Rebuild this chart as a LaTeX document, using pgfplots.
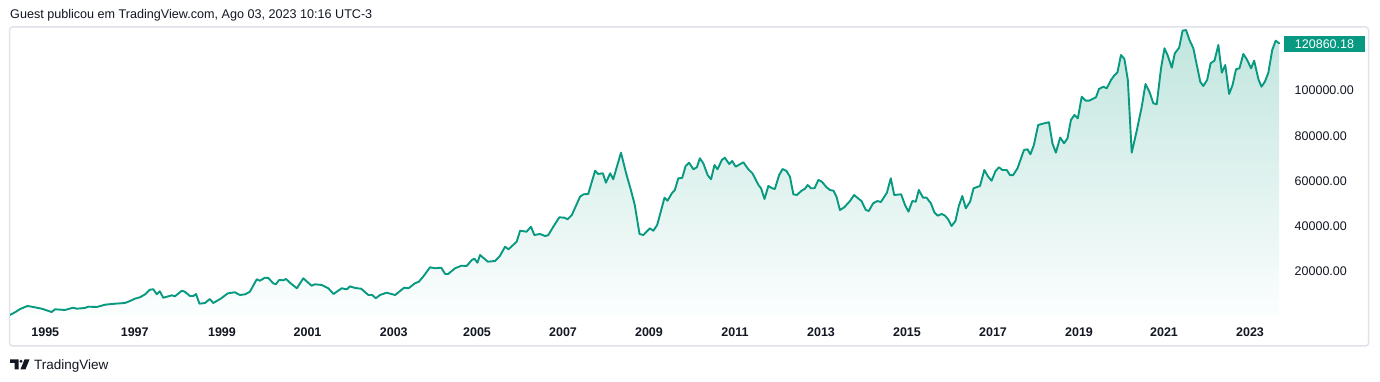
\documentclass[border=0pt]{standalone}
\usepackage{pgfplots}
\pgfplotsset{compat=1.18}
\usepackage{pgfplotstable}
\usepackage{fontspec}
\setmainfont{Liberation Sans}
\definecolor{tvgreen}{RGB}{8,153,129}
\definecolor{tvtext}{RGB}{19,23,34}
\definecolor{tvframe}{RGB}{224,227,235}
\definecolor{filltop}{RGB}{193,229,222}
\definecolor{fillbot}{RGB}{252,254,254}

\pgfplotstableread{
x y
1994.23 880
1994.35 2075
1994.47 3530
1994.64 4860
1994.74 4550
1994.97 3660
1995.20 2210
1995.28 3400
1995.51 3090
1995.70 4110
1995.78 3660
1995.97 3970
1996.05 4550
1996.25 4420
1996.44 5430
1996.67 5870
1996.90 6180
1997.02 7060
1997.13 8080
1997.25 8700
1997.37 10020
1997.48 12050
1997.56 12230
1997.64 10020
1997.71 11350
1997.79 8520
1997.91 9140
1997.99 9580
1998.06 9140
1998.22 11610
1998.29 11170
1998.41 9270
1998.49 9270
1998.55 10160
1998.63 5870
1998.76 6180
1998.87 7950
1998.95 6180
1999.13 8170
1999.29 10460
1999.45 10910
1999.57 9710
1999.69 10020
1999.80 11170
1999.96 16650
2000.03 16030
2000.15 17350
2000.23 17220
2000.34 14880
2000.40 14440
2000.48 16340
2000.58 16200
2000.64 16780
2000.73 15140
2000.89 12670
2001.04 17090
2001.23 13820
2001.31 14440
2001.47 14130
2001.62 12670
2001.74 10160
2001.93 12670
2002.05 12230
2002.12 13550
2002.24 12800
2002.38 12490
2002.55 9710
2002.64 9710
2002.72 8260
2002.82 9710
2002.97 10730
2003.17 9710
2003.38 12940
2003.48 12670
2003.63 14880
2003.72 15590
2003.82 17790
2003.98 21940
2004.10 21500
2004.24 21770
2004.33 18990
2004.40 18990
2004.56 21500
2004.71 22650
2004.83 22520
2004.95 25170
2005.01 25740
2005.08 23970
2005.14 27370
2005.32 24420
2005.49 24720
2005.60 26930
2005.72 31040
2005.80 29890
2005.99 33250
2006.07 38100
2006.22 37660
2006.32 39870
2006.40 36200
2006.53 36650
2006.65 35760
2006.72 36070
2006.84 39870
2006.98 44020
2007.10 43840
2007.17 43130
2007.27 45030
2007.46 53110
2007.54 54170
2007.65 54310
2007.81 64590
2007.88 63140
2007.99 63440
2008.06 59290
2008.16 63440
2008.23 60800
2008.41 72540
2008.54 62690
2008.64 56070
2008.73 49450
2008.84 36650
2008.93 36200
2009.08 39160
2009.16 38100
2009.25 40620
2009.42 52670
2009.49 51350
2009.59 54610
2009.66 56070
2009.74 61240
2009.83 61370
2009.91 66670
2009.99 68120
2010.09 65210
2010.17 66090
2010.24 70070
2010.32 67860
2010.42 62690
2010.50 60800
2010.58 67110
2010.65 65210
2010.75 69320
2010.82 70330
2010.92 67550
2010.99 68870
2011.07 66360
2011.25 68300
2011.36 65340
2011.46 63440
2011.60 58280
2011.66 56820
2011.74 52100
2011.83 57840
2011.92 56820
2011.98 56510
2012.08 62690
2012.16 65340
2012.25 64460
2012.33 61940
2012.41 54170
2012.49 53860
2012.60 55760
2012.68 56640
2012.74 58280
2012.82 56820
2012.90 56820
2012.99 60490
2013.07 59740
2013.18 57260
2013.26 56070
2013.34 55760
2013.41 53110
2013.49 47240
2013.59 48430
2013.72 51130
2013.82 53860
2013.92 52230
2013.99 51210
2014.09 47240
2014.16 46800
2014.26 50200
2014.36 51210
2014.44 50770
2014.58 54880
2014.67 61240
2014.75 53860
2014.91 54170
2015.00 49450
2015.08 46490
2015.17 51210
2015.25 50910
2015.32 56070
2015.42 52670
2015.50 52670
2015.60 50200
2015.68 46230
2015.76 44720
2015.85 45480
2015.93 44720
2016.00 43130
2016.08 40180
2016.17 42380
2016.25 49140
2016.33 53420
2016.41 47990
2016.51 50910
2016.59 56820
2016.74 57840
2016.84 64900
2016.93 61940
2017.01 60180
2017.10 64460
2017.18 66090
2017.26 64900
2017.36 64900
2017.44 62560
2017.51 62690
2017.61 65650
2017.76 73730
2017.84 74040
2017.91 71830
2017.99 75940
2018.09 84770
2018.23 85520
2018.34 85960
2018.42 76690
2018.50 72540
2018.60 79250
2018.69 76690
2018.77 78900
2018.85 86980
2018.93 89180
2019.01 87730
2019.10 97260
2019.19 95500
2019.27 95500
2019.43 97000
2019.50 100660
2019.60 101680
2019.68 100970
2019.78 104640
2019.85 106530
2019.93 108040
2020.01 115670
2020.09 113910
2020.17 104640
2020.26 72540
2020.38 82560
2020.49 92580
2020.58 102870
2020.67 99470
2020.76 94350
2020.84 93910
2020.94 109800
2021.02 118630
2021.09 115670
2021.19 110070
2021.26 116420
2021.36 118900
2021.44 126400
2021.52 126710
2021.60 122300
2021.69 118630
2021.77 111260
2021.85 103890
2021.92 101990
2022.01 104640
2022.09 112010
2022.18 113160
2022.27 120090
2022.35 107860
2022.43 111260
2022.52 98460
2022.60 102430
2022.68 109360
2022.76 109800
2022.85 116120
2022.93 113780
2023.03 109800
2023.10 113160
2023.20 104950
2023.27 101680
2023.35 103890
2023.43 107860
2023.52 117880
2023.60 121990
2023.68 120860
}\ibov

\begin{document}
\begin{tikzpicture}[x=1pt,y=1pt]
\path[use as bounding box, fill=white] (0,0) rectangle (1380,382);
\draw[tvframe, line width=1.5pt, rounded corners=3pt] (9.5,36) rectangle (1368.5,355);
\begin{axis}[
  at={(10pt,65pt)}, anchor=south west,
  scale only axis, width=1271pt, height=290pt,
  xmin=1994.2343, xmax=2023.7239, ymin=0, ymax=128035,
  axis line style={draw=none},
  major tick length=0pt,
  tick style={draw=none},
  scaled x ticks=false, scaled y ticks=false,
  xtick={1995.053,1997.128,1999.153,2001.137,2003.139,2005.07,2007.065,2009.06,2011.056,2013.051,2015.046,2017.042,2019.037,2021.009,2023.005},
  xticklabels={1995,1997,1999,2001,2003,2005,2007,2009,2011,2013,2015,2017,2019,2021,2023},
  xticklabel style={font=\fontsize{12.5}{14}\selectfont\bfseries, text=tvtext, anchor=base, inner sep=0pt, yshift=-19.6pt},
  ytick={20000,40000,60000,80000,100000},
  yticklabels={20000.00,40000.00,60000.00,80000.00,100000.00},
  yticklabel pos=right,
  yticklabel style={font=\fontsize{12.5}{14}\selectfont, text=tvtext, anchor=west, inner sep=0pt, xshift=13.5pt},
]
\addplot[draw=none, top color=filltop, bottom color=fillbot] table {\ibov} \closedcycle;
\addplot[tvgreen, line width=1.9pt, line join=round, line cap=round] table {\ibov};
\end{axis}
\node[fill=tvgreen, text=white, minimum width=81pt, minimum height=16.5pt, inner sep=0pt,
  font=\fontsize{12.5}{14}\selectfont] at (1324.5,338) {120860.18};
\node[anchor=base west, inner sep=0pt, text=tvtext, font=\fontsize{12.6}{14}\selectfont] at (10,363.7)
  {Guest publicou em TradingView.com, Ago 03, 2023 10:16 UTC-3};
\fill[tvtext] (10,22.5) -- (18.5,22.5) -- (18.5,12.7) -- (14.5,12.7) -- (14.5,19.2) -- (10,19.2) -- cycle;
\fill[tvtext] (21,20.8) circle (1.6);
\fill[tvtext] (24.5,22.5) -- (29.5,22.5) -- (25.5,12.7) -- (20.5,12.7) -- cycle;
\node[anchor=base west, inner sep=0pt, text=tvtext, font=\fontsize{13.5}{15}\selectfont] at (34,12.5) {TradingView};
\end{tikzpicture}
\end{document}
